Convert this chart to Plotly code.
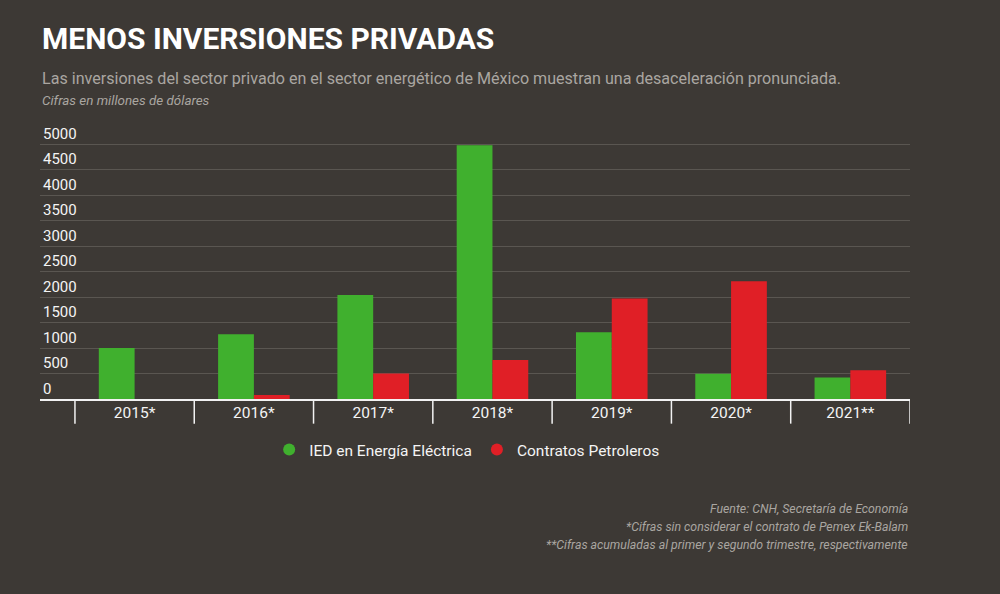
import plotly.graph_objects as go

# datos (millones de dolares)
years = ["2015*", "2016*", "2017*", "2018*", "2019*", "2020*", "2021**"]
ied_electrica = [1000, 1270, 2040, 4980, 1310, 495, 420]
contratos_petroleros = [0, 80, 500, 765, 1975, 2310, 565]
y_ticks = [0, 500, 1000, 1500, 2000, 2500, 3000, 3500, 4000, 4500, 5000]

bg = "#3d3935"
green = "#40b02e"
red = "#e01f26"
grey_text = "#aaa6a1"

pos = list(range(len(years)))

fig = go.Figure()
fig.add_trace(go.Bar(x=pos, y=ied_electrica, name="IED en Energía Eléctrica",
                     marker_color=green, marker_line_width=0, showlegend=False))
fig.add_trace(go.Bar(x=pos, y=contratos_petroleros, name="Contratos Petroleros",
                     marker_color=red, marker_line_width=0, showlegend=False))
# entradas de leyenda con marcador redondo
fig.add_trace(go.Scatter(x=[None], y=[None], mode="markers", name="IED en Energía Eléctrica",
                         marker=dict(color=green, size=12, symbol="circle")))
fig.add_trace(go.Scatter(x=[None], y=[None], mode="markers", name="Contratos Petroleros",
                         marker=dict(color=red, size=12, symbol="circle")))

fig.update_layout(
    width=1000, height=594,
    paper_bgcolor=bg, plot_bgcolor=bg,
    margin=dict(l=40, r=90, t=125, b=195),
    font=dict(family="Roboto", color="#f2f2f2", size=14),
    barmode="group", bargap=0.4, bargroupgap=0,
    legend=dict(orientation="h", x=0.491, xanchor="center", y=-0.186, yanchor="middle",
                font=dict(size=15.5, color="#f4f4f4"), bgcolor="rgba(0,0,0,0)",
                itemwidth=30),
)

# eje x lineal: etiquetas de año via labelalias
fig.update_xaxes(
    range=[-0.793, 6.5], tickmode="linear", tick0=0, dtick=1,
    labelalias={str(p): y for p, y in zip(pos, years)},
    showline=True, linecolor="#f2f2f2", linewidth=2,
    ticks="", showgrid=False, zeroline=False, ticklabelstandoff=-2,
    tickfont=dict(size=15.5, color="#f4f4f4"),
)
fig.update_yaxes(
    range=[0, 5378], tickvals=y_ticks,
    ticklabelposition="inside top", showgrid=True, gridcolor="#5a5651", gridwidth=1,
    zeroline=False, tickfont=dict(size=15, color="#f4f4f4"),
)

# separadores entre categorias, bajo el eje
bordes = [p - 0.5 for p in pos] + [pos[-1] + 0.5]
for b in bordes:
    fig.add_shape(type="line", xref="x", yref="paper", x0=b, x1=b, y0=0, y1=-0.09,
                  line=dict(color="#f2f2f2", width=1.5))

fig.add_annotation(text="<b>MENOS INVERSIONES PRIVADAS</b>", xref="paper", yref="paper",
                   x=0, y=1.314, xanchor="left", yanchor="middle", showarrow=False,
                   font=dict(size=30, color="#ffffff"))
fig.add_annotation(text="Las inversiones del sector privado en el sector energético de México muestran una desaceleración pronunciada.",
                   xref="paper", yref="paper", x=0, y=1.1715, xanchor="left", yanchor="middle",
                   showarrow=False, font=dict(size=16.1, color=grey_text))
fig.add_annotation(text="<i>Cifras en millones de dólares</i>", xref="paper", yref="paper",
                   x=0, y=1.091, xanchor="left", yanchor="middle", showarrow=False,
                   font=dict(size=13.4, color=grey_text))

notas = ["Fuente: CNH, Secretaría de Economía",
         "*Cifras sin considerar el contrato de Pemex Ek-Balam",
         "**Cifras acumuladas al primer y segundo trimestre, respectivamente"]
for i, nota in enumerate(notas):
    fig.add_annotation(text="<i>" + nota + "</i>", xref="paper", yref="paper",
                       x=1, y=-0.401 - 0.066 * i, xanchor="right", yanchor="middle",
                       showarrow=False, font=dict(size=12.3, color=grey_text))

fig.write_html("out.html", config={"displayModeBar": False},
               post_script="document.body.style.margin='0';")
